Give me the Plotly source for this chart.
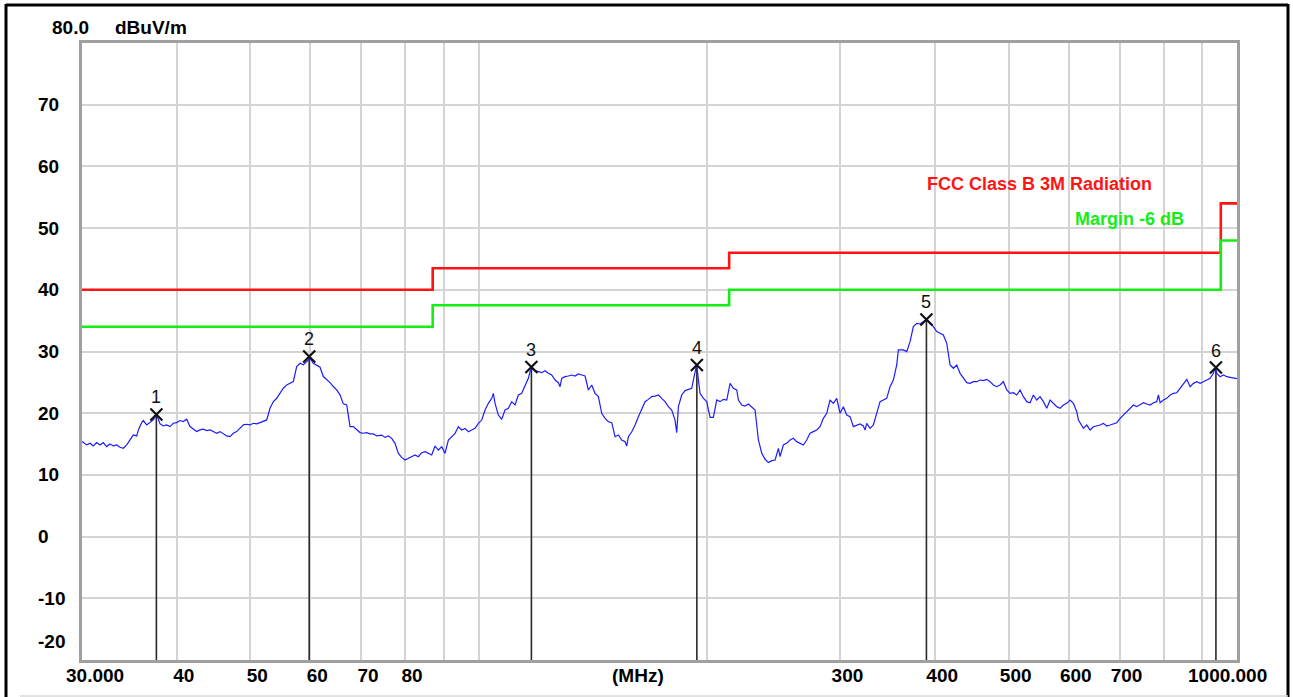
import math
import plotly.graph_objects as go

# ---------------- data ----------------
freq_seg1 = [30.0, 30.43, 30.74, 31.05, 31.37, 31.69, 32.00, 32.33, 32.66, 32.99,
             33.33, 33.67, 34.01, 34.36, 34.71, 35.06, 35.42, 35.60, 35.96, 36.14,
             36.51, 36.88, 37.25, 37.63, 38.02, 38.40, 38.79, 39.19, 39.58, 39.99,
             40.40, 40.80, 41.22, 41.64, 42.06, 42.49, 42.93, 43.36, 43.80, 44.25,
             44.69, 45.15, 45.61, 46.07, 46.55, 47.02, 47.49, 47.98, 48.47, 48.96,
             49.46, 49.96, 50.47, 50.99, 51.50, 52.02, 52.56, 53.09, 53.63, 54.18,
             54.73, 55.28, 55.85, 56.42, 56.98, 57.57, 58.15, 58.74, 59.34, 59.95,
             60.55, 61.17, 61.80, 62.42, 63.06, 63.70, 64.34, 65.00, 65.66, 66.33,
             67.01, 67.69, 68.37, 69.07, 69.78, 70.48, 71.20, 71.93, 72.65, 73.40,
             74.14]
level_seg1 = [15.40, 14.86, 15.13, 14.70, 15.24, 14.86, 15.24, 14.59, 15.02, 14.70,
              14.86, 14.48, 14.32, 14.86, 15.67, 16.48, 16.32, 17.29, 18.48, 18.81,
              18.10, 18.48, 18.91, 19.80, 18.27, 17.94, 18.10, 17.83, 18.37, 18.48,
              18.81, 18.64, 19.02, 17.83, 17.40, 17.02, 17.29, 17.40, 17.18, 17.29,
              17.02, 16.75, 17.02, 16.64, 16.32, 16.21, 16.75, 17.02, 17.56, 18.10,
              18.21, 18.10, 18.37, 18.27, 18.48, 18.64, 18.91, 20.80, 21.88, 22.42,
              23.24, 24.05, 24.59, 24.86, 25.13, 27.56, 28.10, 27.83, 28.37, 28.90,
              28.10, 27.83, 27.45, 25.94, 25.50, 24.96, 24.32, 23.78, 22.97, 21.51,
              21.34, 17.83, 17.83, 17.29, 16.86, 16.75, 16.86, 16.64, 16.64, 16.32,
              16.48]

freq_seg2 = [74.52, 75.28, 76.04, 76.82, 77.60, 78.39, 79.18, 79.99, 80.80, 81.63,
             82.46, 83.29, 84.14, 85.00, 85.86, 86.74, 87.62, 88.51, 89.41, 90.32,
             91.24, 92.17, 93.11, 94.05, 95.01, 95.98, 96.95, 97.94, 98.93, 99.94,
             100.96, 101.98, 103.02, 104.07, 104.59, 105.13, 106.19, 107.28, 108.37, 109.47,
             110.58, 111.71, 112.84, 113.99, 115.15, 116.32, 116.92, 117.51, 118.70, 119.91,
             121.13, 122.36, 123.60, 124.86, 126.14, 127.42, 128.07, 128.71, 130.02, 131.34,
             132.68, 134.03, 135.39, 136.77, 138.17, 139.57, 140.99, 142.42, 143.87, 145.34,
             146.82, 148.31, 149.82, 151.34, 152.88, 154.43, 156.01, 156.80, 157.59, 159.20,
             160.82, 162.45, 164.10, 165.77, 167.46, 169.16, 170.89, 172.62, 174.38, 176.15,
             177.94, 179.75, 181.58, 182.51, 183.43, 185.30]
level_seg2 = [16.46, 16.08, 16.30, 15.92, 15.11, 13.49, 12.84, 12.41, 12.68, 12.84,
              13.22, 12.95, 13.60, 13.76, 13.49, 13.22, 14.68, 14.03, 14.57, 13.49,
              15.65, 16.19, 16.73, 17.81, 17.27, 17.54, 17.00, 17.27, 17.54, 18.35,
              18.89, 20.51, 21.60, 22.41, 23.22, 21.60, 19.70, 19.00, 20.51, 20.78,
              21.87, 21.33, 22.95, 23.22, 24.30, 25.65, 26.73, 27.30, 26.89, 26.73,
              26.57, 26.89, 26.46, 26.19, 25.38, 24.95, 24.30, 25.65, 25.92, 26.03,
              26.19, 26.03, 26.35, 26.19, 26.03, 23.76, 24.57, 23.22, 22.68, 19.97,
              19.16, 18.62, 18.46, 16.19, 16.46, 15.65, 15.38, 14.68, 16.19, 17.00,
              18.08, 19.43, 20.78, 21.87, 22.24, 22.68, 22.78, 22.95, 22.41, 21.87,
              21.06, 20.51, 18.89, 16.84, 21.06, 22.95]

freq_seg3 = [187.18, 189.08, 191.01, 191.96, 192.96, 193.94, 194.92, 195.91, 197.88, 199.92,
             201.95, 203.98, 206.08, 208.18, 210.28, 212.44, 214.60, 216.76, 218.99, 220.09,
             222.33, 224.59, 226.87, 229.19, 231.52, 233.87, 236.25, 238.66, 241.08, 243.54,
             246.02, 248.51, 249.74, 252.25, 254.85, 257.44, 260.03, 262.71, 265.38, 268.05,
             270.81, 273.56, 276.31, 279.16, 282.00, 284.84, 287.77, 290.69, 293.62, 296.64,
             299.65, 302.67, 305.78, 308.89, 312.00, 315.21, 318.41, 321.62, 323.28, 324.92,
             328.23, 331.54, 334.95, 338.35, 341.76, 345.27, 348.78, 352.29, 355.92, 357.71,
             363.15, 366.89, 370.62, 374.35, 378.20, 382.04, 385.89, 389.86, 393.82, 397.79,
             401.88, 405.96, 410.05, 414.27, 418.48, 422.69, 427.04, 431.38]
level_seg3 = [23.66, 23.87, 24.03, 25.38, 27.00, 27.90, 25.38, 23.22, 22.41, 21.87,
              19.33, 19.33, 22.14, 21.87, 22.25, 22.14, 24.84, 24.03, 23.76, 22.14,
              21.33, 21.17, 21.49, 21.06, 20.52, 15.66, 13.50, 12.53, 11.99, 12.31,
              12.42, 14.31, 12.96, 14.85, 15.12, 15.66, 15.93, 15.39, 15.12, 14.85,
              15.66, 16.74, 17.01, 17.28, 17.82, 19.17, 19.98, 22.14, 21.60, 22.41,
              19.98, 21.06, 19.71, 19.44, 17.82, 18.09, 18.25, 17.93, 17.28, 18.36,
              17.55, 18.09, 19.98, 21.87, 22.14, 22.41, 24.30, 25.38, 27.82, 30.25,
              30.25, 29.98, 31.60, 34.03, 34.57, 34.46, 34.84, 35.20, 34.57, 34.03,
              33.22, 32.95, 32.68, 31.33, 27.82, 27.28, 27.82, 26.46]

freq_seg4 = [435.72, 440.21, 444.68, 449.16, 453.78, 458.39, 463.01, 467.77, 472.52, 477.28,
             482.19, 487.09, 492.00, 497.06, 502.11, 507.17, 512.38, 517.59, 522.80, 528.18,
             533.55, 538.92, 544.47, 550.00, 555.54, 561.25, 566.96, 572.67, 578.56, 584.44,
             590.33, 596.40, 602.46, 608.53, 614.79, 617.88, 624.19, 627.29, 633.75, 640.19,
             646.64, 653.29, 659.93, 666.58, 673.43, 680.27, 687.12, 694.19, 701.25, 708.31,
             715.60, 722.87, 730.15, 737.66, 745.16, 752.66, 760.41, 768.13, 775.86, 783.85,
             787.80, 791.82, 799.79, 808.02, 816.23, 824.45, 832.93, 841.40, 849.87, 858.62,
             867.34, 876.07, 885.09, 894.08, 903.08, 912.37, 921.65, 930.93, 935.75, 940.51,
             950.07, 959.64, 969.51, 979.36, 989.22, 1000.0]
level_seg4 = [25.65, 24.95, 24.84, 25.11, 25.11, 25.38, 25.27, 25.49, 25.11, 24.57,
              24.30, 24.57, 25.11, 23.76, 23.22, 23.32, 22.95, 23.76, 22.68, 21.87,
              21.70, 22.95, 22.14, 22.68, 21.87, 20.79, 22.14, 21.60, 21.06, 20.79,
              21.33, 21.60, 22.14, 21.60, 20.25, 18.89, 18.08, 17.54, 18.08, 17.27,
              17.81, 17.92, 18.08, 18.35, 17.92, 18.08, 18.25, 18.46, 19.16, 19.70,
              20.25, 20.79, 21.33, 21.06, 21.33, 21.70, 21.49, 21.33, 21.70, 21.87,
              22.95, 21.70, 22.14, 22.41, 22.95, 23.22, 23.32, 24.03, 24.84, 25.49,
              24.30, 24.84, 25.11, 24.84, 25.11, 25.38, 25.65, 26.46, 27.30, 26.46,
              25.92, 26.19, 25.92, 25.81, 25.65, 25.60]

trace_freq_mhz = freq_seg1 + freq_seg2 + freq_seg3 + freq_seg4
trace_level_dbuv = level_seg1 + level_seg2 + level_seg3 + level_seg4
assert len(trace_freq_mhz) == len(trace_level_dbuv), (len(trace_freq_mhz), len(trace_level_dbuv))

limit_freq_mhz = [30, 87.0, 214.0, 952.0, 1000]
fcc_limit_dbuv = [40, 43.5, 46, 54, 54]
margin_limit_dbuv = [34, 37.5, 40, 48, 48]

marker_labels = ["1", "2", "3", "4", "5", "6"]
marker_freq_mhz = [37.6, 59.8, 117.4, 194.0, 389.5, 938.0]
marker_level_dbuv = [19.8, 29.2, 27.5, 27.8, 35.2, 27.4]

x_tick_vals = [40, 50, 60, 70, 80, 90, 100, 200, 300, 400, 500, 600, 700, 800, 900]
x_tick_text = ["40", "50", "60", "70", "80", "", "", "", "300", "400", "500", "600", "700", "", ""]
y_tick_vals = [70, 60, 50, 40, 30, 20, 10, 0, -10]
y_tick_text = ["70", "60", "50", "40", "30", "20", "10", "0", "-10"]
Y_MIN, Y_MAX = -20, 80
X_MIN, X_MAX = 30, 1000

# ---------------- figure ----------------
W, H = 1293, 697
ML, MR, MT, MB = 82, 56, 43, 37
PW, PH = W - ML - MR, H - MT - MB


def px_x(p):
    return (p - ML) / PW


def px_y(p):
    return (H - MB - p) / PH


FONT = "Liberation Sans, Arial, sans-serif"
bold = dict(family=FONT, size=19, color="#000000", weight="bold")

fig = go.Figure()

fig.add_trace(go.Scatter(x=limit_freq_mhz, y=fcc_limit_dbuv, mode="lines",
                         line=dict(color="#ff1414", width=2.6, shape="hv"), hoverinfo="skip"))
fig.add_trace(go.Scatter(x=limit_freq_mhz, y=margin_limit_dbuv, mode="lines",
                         line=dict(color="#14ee14", width=2.6, shape="hv"), hoverinfo="skip"))

drop_x, drop_y = [], []
for f, v in zip(marker_freq_mhz, marker_level_dbuv):
    drop_x += [f, f, None]
    drop_y += [v, Y_MIN, None]
fig.add_trace(go.Scatter(x=drop_x, y=drop_y, mode="lines",
                         line=dict(color="#2a2a2a", width=1.6), hoverinfo="skip"))

fig.add_trace(go.Scatter(x=trace_freq_mhz, y=trace_level_dbuv, mode="lines",
                         line=dict(color="#1c1cff", width=1.2)))

fig.add_trace(go.Scatter(x=marker_freq_mhz, y=marker_level_dbuv, mode="markers",
                         marker=dict(symbol="x-thin-open", size=12, color="#111111",
                                     line=dict(color="#111111", width=2.2))))

annotations = []
for lab, f, v in zip(marker_labels, marker_freq_mhz, marker_level_dbuv):
    annotations.append(dict(x=math.log10(f), y=v, xref="x", yref="y", text=lab,
                            showarrow=False, yshift=17,
                            font=dict(family=FONT, size=18, color="#111111")))

for v, t in zip(y_tick_vals, y_tick_text):
    annotations.append(dict(x=px_x(36), y=v, xref="paper", yref="y", text=t,
                            showarrow=False, xanchor="left", yanchor="middle", font=bold))
annotations.append(dict(x=px_x(36), y=Y_MIN, xref="paper", yref="y", text="-20",
                        showarrow=False, xanchor="left", yanchor="middle", yshift=19, font=bold))
annotations.append(dict(x=px_x(50), y=Y_MAX, xref="paper", yref="y", text="80.0",
                        showarrow=False, xanchor="left", yanchor="middle", yshift=16, font=bold))
annotations.append(dict(x=px_x(113), y=Y_MAX, xref="paper", yref="y", text="dBuV/m",
                        showarrow=False, xanchor="left", yanchor="middle", yshift=16, font=bold))

annotations.append(dict(x=px_x(95), y=0, xref="paper", yref="paper", text="30.000",
                        showarrow=False, xanchor="center", yanchor="middle", yshift=-15, font=bold))
annotations.append(dict(x=px_x(1227), y=0, xref="paper", yref="paper", text="1000.000",
                        showarrow=False, xanchor="center", yanchor="middle", yshift=-15, font=bold))
annotations.append(dict(x=px_x(638), y=0, xref="paper", yref="paper", text="(MHz)",
                        showarrow=False, xanchor="center", yanchor="middle", yshift=-15, font=bold))

annotations.append(dict(x=math.log10(388), y=57.2, xref="x", yref="y",
                        text="FCC Class B 3M Radiation", showarrow=False,
                        xanchor="left", yanchor="middle",
                        font=dict(family=FONT, size=18, color="#ff1414", weight="bold")))
annotations.append(dict(x=math.log10(608), y=51.5, xref="x", yref="y",
                        text="Margin -6 dB", showarrow=False,
                        xanchor="left", yanchor="middle",
                        font=dict(family=FONT, size=18, color="#14ee14", weight="bold")))

shapes = [
    dict(type="line", xref="paper", yref="paper", x0=px_x(6), x1=px_x(1288), y0=px_y(5), y1=px_y(5),
         line=dict(color="#000000", width=3)),
    dict(type="line", xref="paper", yref="paper", x0=px_x(6), x1=px_x(6), y0=px_y(4), y1=px_y(700),
         line=dict(color="#000000", width=3)),
    dict(type="line", xref="paper", yref="paper", x0=px_x(1288), x1=px_x(1288), y0=px_y(4), y1=px_y(700),
         line=dict(color="#000000", width=3)),
    dict(type="line", xref="paper", yref="paper", x0=px_x(20), x1=px_x(1288), y0=px_y(696), y1=px_y(696),
         line=dict(color="#d8d8d8", width=1.5)),
]

fig.update_layout(
    width=W, height=H,
    margin=dict(l=ML, r=MR, t=MT, b=MB, pad=0, autoexpand=False),
    paper_bgcolor="#ffffff", plot_bgcolor="#ffffff",
    showlegend=False,
    annotations=annotations,
    shapes=shapes,
    xaxis=dict(type="log", range=[math.log10(X_MIN), math.log10(X_MAX)],
               tickmode="array", tickvals=x_tick_vals, ticktext=x_tick_text,
               showgrid=True, gridcolor="#d4d4d4", gridwidth=1.5,
               showline=True, linecolor="#a0a0a0", linewidth=2.5, mirror=True,
               ticks="", tickfont=bold, ticklabelshift=7, ticklabelstandoff=-4,
               automargin=False, zeroline=False, fixedrange=True),
    yaxis=dict(range=[Y_MIN, Y_MAX], tickmode="array", tickvals=y_tick_vals,
               showticklabels=False, showgrid=True, gridcolor="#d4d4d4", gridwidth=1.5,
               showline=True, linecolor="#a0a0a0", linewidth=2.5, mirror=True,
               ticks="", automargin=False, zeroline=False, fixedrange=True),
)

fig.write_html("out.html", config={"displayModeBar": False},
               post_script="document.body.style.margin='0';document.body.style.overflow='hidden';")
